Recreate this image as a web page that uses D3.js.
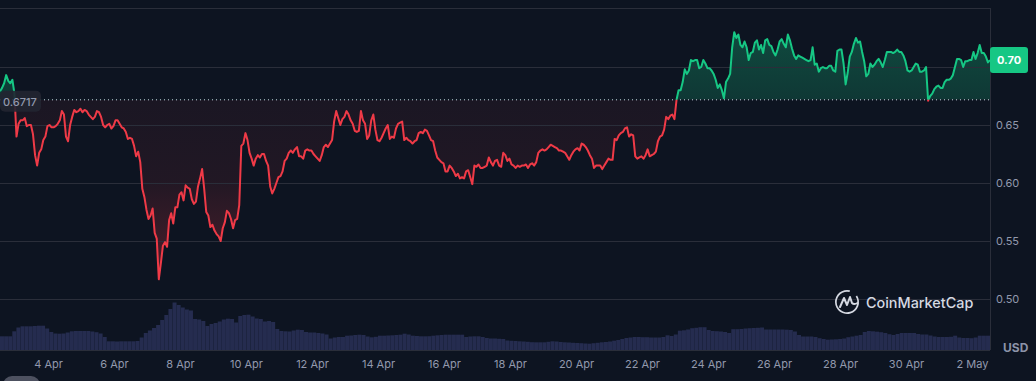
<!DOCTYPE html>
<html>
<head>
<meta charset="utf-8">
<script src="https://cdn.jsdelivr.net/npm/d3@7"></script>
<style>
html, body { margin: 0; padding: 0; background: #0d1421; overflow: hidden; }
svg { display: block; font-family: Inter, "Noto Sans", sans-serif; }
</style>
</head>
<body>
<div id="chart"></div>
<script>
const pricesA = [
.679,.682,.686,.693,.688,.686,.689,.677,.640,.651,
.654,.654,.656,.649,.650,.650,.642,.624,.615,.626,
.629,.637,.640,.649,.650,.648,.648,.649,.651,.654,
.662,.659,.640,.636,.650,.657,.663,.661,.662,.664,
.661,.663,.662,.659,.657,.655,.657,.662,.661,.657,
.650,.648,.650,.651,.647,.649,.654,.654,.651,.648,
.647,.644,.638,.639,.638,.632,.623,.627,.618,.595,
.588,.577,.569,.572,.578,.557,.552,.517,.531,.546,
.549,.545,.568,.574,.565,.579,.579,.590,.592,.585,
.598,.596,.595,.586,.582,.584,.597,.604,.612,.595,
.575,.572,.562,.564,.559,.556,.554,.550,.561,.566,
.576,.574,.569,.561,.568,.569,.581,.632,.634,.643,
.637,.626,.621,.615,.621,.624,.622
];
const pricesB = [
.625,.625,.619,.615,.597,.591,.595,.600,.605,.606,
.610,.619,.621,.626,.628,.626,.629,.631,.623,.623,
.621,.628,.629,.628,.628,.625,.623,.621,.619,.624,
.631,.633,.631,.634,.637,.653,.662,.656,.650,.655,
.657,.662,.659,.654,.651,.645,.644,.645,.662,.654,
.651,.638,.641,.654,.659,.646,.637,.636,.639,.643,
.647,.650,.638,.640,.639,.647,.651,.652,.653,.637,
.639,.637,.636,.634,.636,.637,.643,.644,.643,.646,
.645,.641,.637,.636,.628,.622,.620,.618,.617,.610,
.610,.615,.613,.610,.606,.608,.604,.605,.604,.610,
.611,.605,.599,.615,.614,.616,.613,.613,.614,.615,
.622,.618,.615,.619,.620,.615
];
const pricesC = [
.614,.626,.624,.619,.621,.616,.615,.613,.615,.614,
.615,.615,.616,.613,.616,.617,.615,.618,.626,.628,
.629,.628,.629,.631,.633,.632,.631,.630,.628,.628,
.627,.626,.623,.620,.624,.627,.629,.630,.628,.634,
.633,.631,.628,.624,.621,.613,.615,.615,.615,.612,
.615,.618,.621,.620,.620,.638,.637,.641,.643,.644,
.647,.648,.640,.642,.641,.623,.621,.622,.623,.621,
.624,.629,.623,.624,.625,.627,.636,.640,.641,.646,
.657,.655,.658,.659,.655,.6715
];
const pricesD = [
.680,.680,.687,.698,.694,.697,.706,.705,.706,.706,
.699,.700,.706,.703,.699,.699,.697,.694,.689,.682,
.685,.680,.673,.687,.690,.694,.717,.730,.725,.728,
.719,.717,.722,.717,.706,.712,.713,.721,.723,.715,
.719,.712,.723,.724,.719,.718,.713,.710,.715,.722,
.724,.720,.717,.728,.723,.716,.710,.707,.710,.709,
.708,.707,.706,.705,.706,.717,.702,.703,.696,.699,
.700,.699,.699,.701,.701,.697,.696,.714,.715,.715,
.703,.685,.695,.709,.713,.720,.725,.721,.722,.713,
.705,.692,.694,.703,.700,.702,.705,.707,.704,.700,
.706,.713,.713,.713,.712,.713,.715,.713,.713,.710,
.705,.697,.696,.697,.700,.703,.702,.696,.696,.697,
.700,.671,.675,.677,.681,.683,.684,.682,.682,.687,
.689,.689,.690,.693,.700,.707,.707,.706,.700,.705,
.705,.706,.706,.713,.707,.712,.719,.712,.712,.709,
.704,.706
];
const prices = [...pricesA, ...pricesB, ...pricesC, ...pricesD];

const volumesA = [
137,137,137,187,225,237,237,237,240,243,243,215,180,165,163,165,175,187,190,190,
190,190,185,178,165,130,87,87,85,87,87,87,87,90,125,170,195,220,250,300,
350,410,475,450,425,405,395,310,305,290,240,260,270,285,305,313,310,275,340,350,
353,335,315,310,285,290,280,210,190,187,185,195,203,200,180,175,175,170,165,155,
115,125,130
];
const volumesB = [
130,143,145,150,153,150,135,127,132,143,143,145,147,150,153,163,155,143,140,137,
137,138,143,147,150,153,153,153,153,153,130,135,137,137,130,120,115,115,112,110,
95,92,90,87,85,82,78,77,77,77,82,87,85,80,77,75,72,70,68,65,
63,68,72,77,80,85,93,100,110,120,125,130,130,128,128,125,125,125,130,147,
140,155
];
const volumesC = [
193,197,205,218,222,228,228,200,190,188,185,180,170,208,208,210,215,218,220,222,
225,205,205,205,205,205,203,200,185,150,135,135,135,130,118,110,103,105,107,110,
115,128,135,143,150,180,190,187,183,178,170,158,150,160,170,170,170,170,160,155,
155,145,135,130,130,130,132,143,125,120,120,118,125,143,143,143
];
const volumes = [...volumesA, ...volumesB, ...volumesC];

const basePrice = 0.6717;
const lastPrice = "0.70";
const baseLabel = "0.6717";
const priceTicks = [0.65, 0.60, 0.55, 0.50];
const gridPrices = [0.70, 0.65, 0.60, 0.55, 0.50];
const dateTicks = ["2025-04-04","2025-04-06","2025-04-08","2025-04-10","2025-04-12","2025-04-14","2025-04-16","2025-04-18","2025-04-20","2025-04-22","2025-04-24","2025-04-26","2025-04-28","2025-04-30","2025-05-02"];

const width = 1036, height = 381;
const plotRight = 990, plotBottom = 350;
const stepHours = 1.5;
const startTime = Date.UTC(2025, 3, 2, 13, 5);
const timeAt = i => new Date(startTime + i * stepHours * 3600000);

const svg = d3.select("#chart").append("svg")
    .attr("width", width)
    .attr("height", height);

const xScale = d3.scaleUtc()
    .domain([timeAt(0), timeAt(480)])
    .range([0, plotRight]);

// 58px per 0.05, 0.70 sits on y=67
const yScale = d3.scaleLinear()
    .domain([0.7, 0.5])
    .range([67, 299]);

const volScale = d3.scaleLinear()
    .domain([0, 500])
    .range([plotBottom, plotBottom - 50]);

const volBand = d3.scaleBand()
    .domain(d3.range(volumes.length))
    .range([0, plotRight])
    .paddingInner(0.03);

const baseY = yScale(basePrice);

const defs = svg.append("defs");
defs.append("clipPath").attr("id", "above")
    .append("rect").attr("x", 0).attr("y", 0).attr("width", plotRight).attr("height", baseY);
defs.append("clipPath").attr("id", "below")
    .append("rect").attr("x", 0).attr("y", baseY).attr("width", plotRight).attr("height", plotBottom - baseY);

const greenGrad = defs.append("linearGradient").attr("id", "greenFill")
    .attr("gradientUnits", "userSpaceOnUse")
    .attr("x1", 0).attr("x2", 0).attr("y1", yScale(0.73)).attr("y2", baseY);
greenGrad.append("stop").attr("offset", 0).attr("stop-color", "#16c784").attr("stop-opacity", 0.3);
greenGrad.append("stop").attr("offset", 1).attr("stop-color", "#16c784").attr("stop-opacity", 0.2);

const redGrad = defs.append("linearGradient").attr("id", "redFill")
    .attr("gradientUnits", "userSpaceOnUse")
    .attr("x1", 0).attr("x2", 0).attr("y1", baseY).attr("y2", yScale(0.52));
redGrad.append("stop").attr("offset", 0).attr("stop-color", "#ea3943").attr("stop-opacity", 0.06);
redGrad.append("stop").attr("offset", 0.45).attr("stop-color", "#ea3943").attr("stop-opacity", 0.09);
redGrad.append("stop").attr("offset", 1).attr("stop-color", "#ea3943").attr("stop-opacity", 0.28);

// volume
svg.append("g").selectAll("rect")
    .data(volumes)
    .enter().append("rect")
    .attr("x", (d, i) => volBand(i))
    .attr("width", volBand.bandwidth())
    .attr("y", d => volScale(d))
    .attr("height", d => plotBottom - volScale(d))
    .attr("fill", "#252c4f");

// price areas
const area = d3.area()
    .x((d, i) => xScale(timeAt(i)))
    .y0(baseY)
    .y1(d => yScale(d));
const line = d3.line()
    .x((d, i) => xScale(timeAt(i)))
    .y(d => yScale(d));

svg.append("path").attr("d", area(prices)).attr("fill", "url(#greenFill)").attr("clip-path", "url(#above)");
svg.append("path").attr("d", area(prices)).attr("fill", "url(#redFill)").attr("clip-path", "url(#below)");

// grid
svg.append("g").selectAll("line")
    .data(gridPrices)
    .enter().append("line")
    .attr("x1", 0).attr("x2", plotRight)
    .attr("y1", d => yScale(d) + 0.5).attr("y2", d => yScale(d) + 0.5)
    .attr("stroke", "#2a2e3a");
svg.append("line").attr("x1", 0).attr("x2", plotRight).attr("y1", 8.5).attr("y2", 8.5).attr("stroke", "#2a2e3a");
svg.append("line").attr("x1", plotRight + 0.5).attr("x2", plotRight + 0.5).attr("y1", 8).attr("y2", plotBottom).attr("stroke", "#2a2e3a");
svg.append("line").attr("x1", 0).attr("x2", plotRight).attr("y1", plotBottom + 0.5).attr("y2", plotBottom + 0.5).attr("stroke", "#2a2e3a");

svg.append("line")
    .attr("x1", 0).attr("x2", plotRight)
    .attr("y1", baseY).attr("y2", baseY)
    .attr("stroke", "#cfd6e4")
    .attr("stroke-width", 1)
    .attr("stroke-dasharray", "1 3");

svg.append("path").attr("d", line(prices)).attr("fill", "none")
    .attr("stroke", "#16c784").attr("stroke-width", 2).attr("stroke-linejoin", "round")
    .attr("clip-path", "url(#above)");
svg.append("path").attr("d", line(prices)).attr("fill", "none")
    .attr("stroke", "#ef3a47").attr("stroke-width", 2).attr("stroke-linejoin", "round")
    .attr("clip-path", "url(#below)");

// x axis
const xAxis = d3.axisBottom(xScale)
    .tickValues(dateTicks.map(d => new Date(d + "T00:00:00Z")))
    .tickFormat(d3.utcFormat("%-d %b"))
    .tickSize(0)
    .tickPadding(10);
const xG = svg.append("g").attr("transform", `translate(0,${plotBottom})`).call(xAxis);
xG.select(".domain").remove();
xG.selectAll("text").attr("fill", "#9299ad").attr("font-size", 11).attr("font-family", "Inter");

// y axis
const yAxis = d3.axisRight(yScale)
    .tickValues(priceTicks)
    .tickFormat(d3.format(".2f"))
    .tickSize(0)
    .tickPadding(6);
const yG = svg.append("g").attr("transform", `translate(${plotRight},0)`).call(yAxis);
yG.select(".domain").remove();
yG.selectAll("text").attr("fill", "#9299ad").attr("font-size", 11).attr("font-family", "Inter");

svg.append("text").attr("x", 1003).attr("y", 352)
    .attr("fill", "#8b93a8").attr("font-size", 12).attr("font-weight", 700).text("USD");

// last price tag
const lastY = yScale(prices[prices.length - 1]);
svg.append("rect").attr("x", 990).attr("y", lastY - 13).attr("width", 38).attr("height", 26).attr("rx", 3).attr("fill", "#16c784");
svg.append("text").attr("x", 1009).attr("y", lastY + 4).attr("text-anchor", "middle")
    .attr("fill", "#fff").attr("font-size", 11).attr("font-weight", 700).text(lastPrice);

// baseline tag
svg.append("rect").attr("x", 0).attr("y", baseY - 9).attr("width", 41).attr("height", 21).attr("rx", 5)
    .attr("fill", "#222531").attr("opacity", 0.9);
svg.append("text").attr("x", 3).attr("y", baseY + 6)
    .attr("fill", "#9299ad").attr("font-size", 11).attr("font-weight", 500).text(baseLabel);

// logo
const logo = svg.append("g").attr("transform", "translate(847,302)");
logo.append("path")
    .attr("d", d3.arc()({innerRadius: 10.3, outerRadius: 12, startAngle: 1.0, endAngle: 2 * Math.PI + 0.25}))
    .attr("fill", "#d5d9e2");
logo.append("path")
    .attr("d", "M-7,5 L-3,-4 L0,3 L3,-5 L5,1 Q7,3 10.5,1")
    .attr("fill", "none").attr("stroke", "#d5d9e2").attr("stroke-width", 2).attr("stroke-linejoin", "round").attr("stroke-linecap", "round");
svg.append("text").attr("x", 866).attr("y", 308)
    .attr("fill", "#d5d9e2").attr("font-size", 14.4).attr("font-weight", 500).text("CoinMarketCap");

// pill at the bottom edge
svg.append("rect").attr("x", 3).attr("y", 376).attr("width", 37).attr("height", 20).attr("rx", 9).attr("fill", "#4d5160");
</script>
</body>
</html>
